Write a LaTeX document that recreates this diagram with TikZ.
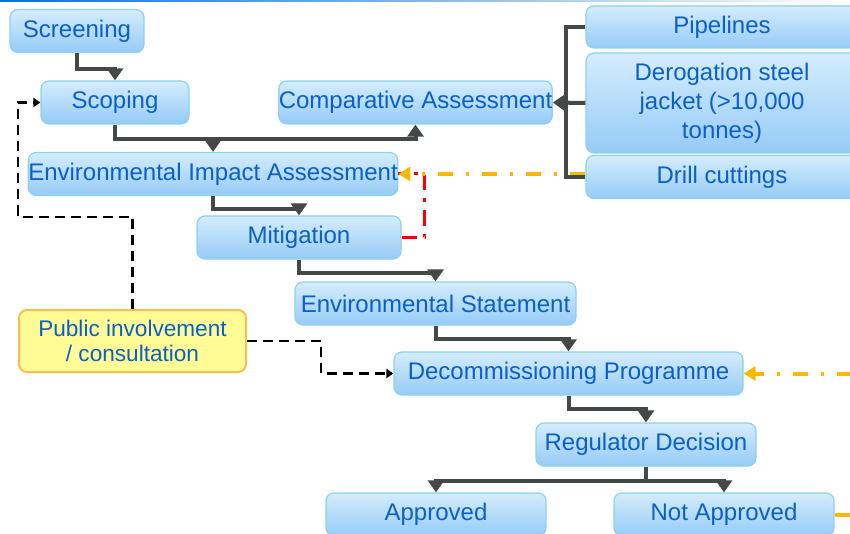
\documentclass[tikz,border=0pt]{standalone}
\usepackage{fontspec}
\setmainfont{Liberation Sans}
\usepackage{tikz}
\usetikzlibrary{positioning, calc, arrows.meta}

\definecolor{stagetop}{RGB}{212,237,253}
\definecolor{stagebot}{RGB}{150,203,247}
\definecolor{stageline}{RGB}{140,210,232}
\definecolor{stagetext}{RGB}{10,96,200}
\definecolor{flowgray}{RGB}{68,72,70}
\definecolor{pubfill}{RGB}{255,252,150}
\definecolor{publine}{RGB}{250,190,80}
\definecolor{decom}{RGB}{250,185,0}
\definecolor{rule}{RGB}{10,114,214}

\tikzset{
  stage/.style={draw=stageline, line width=0.6pt, rounded corners=4pt,
    top color=stagetop, bottom color=stagebot, text=stagetext,
    font=\fontsize{12}{14.5}\selectfont, align=center, inner sep=0pt,
    minimum height=21.5pt},
  public/.style={stage, draw=publine, line width=1pt, fill=pubfill,
    top color=pubfill, bottom color=pubfill,
    font=\fontsize{11.3}{12.5}\selectfont},
  flow/.style={draw=flowgray, line width=2pt, -{Triangle[length=6pt,width=8pt]}},
  flowline/.style={draw=flowgray, line width=2pt},
  consult/.style={draw=black, line width=1.4pt, dash pattern=on 5pt off 3pt,
    -{Triangle[length=3.5pt,width=4.5pt]}},
  decomline/.style={draw=decom, line width=2pt,
    dash pattern=on 7.5pt off 6.5pt on 1.5pt off 6.5pt},
  mitline/.style={draw=red, line width=1.5pt,
    dash pattern=on 7.5pt off 4pt on 2pt off 4pt}
}

\begin{document}
\begin{tikzpicture}[x=0.5pt, y=-0.5pt]
    \useasboundingbox (0,0) rectangle (850,534);
    \clip (0,0) rectangle (850,534);
    \shade[left color=rule, right color=white] (0,0) rectangle (850,2);

    % assessment stages
    \node [stage, minimum width=67pt] (scr) at (77,31) {Screening};
    \node [stage, minimum width=74pt] (scop) at (115,102.5) {Scoping};
    \node [stage, minimum width=135.5pt] (comp) at (415.5,102.5) {Comparative Assessment};
    \node [stage, minimum width=182pt] (eia) at (213,174) {Environmental Impact Assessment};
    \node [stage, minimum width=102pt] (mitig) at (299,237.5) {Mitigation};
    \node [stage, minimum width=140.5pt] (es) at (435.5,303.5) {Environmental Statement};
    \node [stage, minimum width=174.5pt] (dp) at (568.5,373.5) {Decommissioning Programme};
    \node [stage, minimum width=110pt] (rd) at (646,444.5) {Regulator Decision};
    \node [stage, minimum width=110pt] (appr) at (436,514.5) {Approved};
    \node [stage, minimum width=110pt] (napp) at (724,514.5) {Not Approved};

    % items feeding the comparative assessment
    \node [stage, minimum width=136pt, minimum height=21pt] (pipe) at (722,27) {Pipelines};
    \node [stage, minimum width=136pt, minimum height=50pt] (derog) at (722,103)
        {Derogation steel\\jacket (>10,000\\tonnes)};
    \node [stage, minimum width=136pt] (drill) at (722,177) {Drill cuttings};

    \node [public, minimum width=113.5pt, minimum height=31pt] (pub) at (132.5,341)
        {Public involvement\\/ consultation};

    \coordinate (offR) at (852,373.5);

    % feedback lines
    \draw[mitline] (mitig.east) -- ++(23,0) |- (eia.east);
    \draw[decomline, -{Triangle[length=6pt,width=7pt]}] (drill.west |- eia.east) -- (eia.east);
    \draw[decomline, -{Triangle[length=6pt,width=7pt]}] (offR) -- (dp.east);
    \draw[decomline] (napp.east) -- ++(20,0);

    % consultation
    \draw[consult] (pub.north) |- (18,217) |- (scop.west);
    \draw[consult] (pub.east) -- ++(74,0) |- (dp.west);

    % main flow
    \draw[flow] (scr.south) -- ++(0,16) -| (scop.north);
    \draw[flow] (scop.south) -- ++(0,14) coordinate (scopturn) -| (comp.south);
    \draw[flow] (scopturn -| eia.north) -- (eia.north);
    \draw[flowline] (pipe.west) -- ++(-19,0) coordinate (busT) -- (busT |- drill.west) -- (drill.west);
    \draw[flow] (derog.west) -- (comp.east);
    \draw[flow] (eia.south) -- ++(0,13) -| (mitig.north);
    \draw[flow] (mitig.south) -- ++(0,13) -| (es.north);
    \draw[flow] (es.south) -- ++(0,13) -| (dp.north);
    \draw[flow] (dp.south) -- ++(0,13) -| (rd.north);
    \draw[flow] (rd.south) -- ++(0,14) coordinate (rdturn) -| (appr.north);
    \draw[flow] (rdturn) -| (napp.north);

\end{tikzpicture}
\end{document}
